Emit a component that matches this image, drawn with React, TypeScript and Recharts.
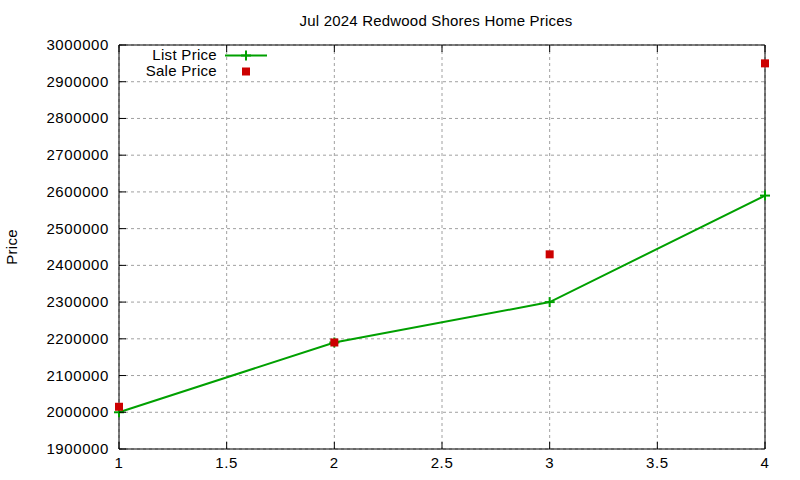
import { CartesianGrid, ComposedChart, Line, XAxis, YAxis } from "recharts";

const xValues = [1, 2, 3, 4];
const listPrice = [2000000, 2190000, 2300000, 2590000];
const salePrice = [2015000, 2190000, 2430000, 2950000];

const xTicks = [1, 1.5, 2, 2.5, 3, 3.5, 4];
const yTicks = [
  1900000, 2000000, 2100000, 2200000, 2300000, 2400000, 2500000, 2600000, 2700000, 2800000, 2900000,
  3000000,
];

const FONT = "'Liberation Sans', Arial, sans-serif";
const GREEN = "#00a000";
const RED = "#cc0000";

const data = xValues.map((x, i) => ({ x, list: listPrice[i], sale: salePrice[i] }));

function BottomTick({ x, y, payload }: any) {
  return (
    <g>
      <line x1={x} y1={y} x2={x} y2={y - 7} stroke="#000" />
      <text
        x={x}
        y={y + 19}
        textAnchor="middle"
        fontSize={15}
        letterSpacing={0.6}
        fontFamily={FONT}
        fill="#000"
      >
        {payload.value}
      </text>
    </g>
  );
}

function TopTick({ x, y }: any) {
  return <line x1={x} y1={y} x2={x} y2={y + 7} stroke="#000" />;
}

function LeftTick({ x, y, payload }: any) {
  return (
    <g>
      <line x1={x} y1={y} x2={x + 7} y2={y} stroke="#000" />
      <text
        x={x - 10}
        y={y + 5}
        textAnchor="end"
        fontSize={15}
        letterSpacing={0.6}
        fontFamily={FONT}
        fill="#000"
      >
        {payload.value}
      </text>
    </g>
  );
}

function RightTick({ x, y }: any) {
  return <line x1={x} y1={y} x2={x - 7} y2={y} stroke="#000" />;
}

function PlusDot({ cx, cy }: any) {
  return (
    <g>
      <line x1={cx - 5} y1={cy} x2={cx + 5} y2={cy} stroke={GREEN} strokeWidth={2} />
      <line x1={cx} y1={cy - 5} x2={cx} y2={cy + 5} stroke={GREEN} strokeWidth={2} />
    </g>
  );
}

function SquareDot({ cx, cy }: any) {
  return <rect x={cx - 4} y={cy - 4} width={8} height={8} fill={RED} />;
}

export default function App() {
  return (
    <div style={{ position: "absolute", left: 0, top: 0, width: 800, height: 480, background: "#fff" }}>
      <ComposedChart width={800} height={480} data={data} margin={{ top: 44, right: 34, bottom: 0, left: 0 }}>
        <CartesianGrid stroke="#a0a0a0" strokeDasharray="3 3" />
        <XAxis
          xAxisId={0}
          dataKey="x"
          type="number"
          domain={[1, 4]}
          ticks={xTicks}
          height={31}
          tickSize={0}
          tickMargin={0}
          tickLine={false}
          axisLine={{ stroke: "#000" }}
          tick={<BottomTick />}
          interval={0}
        />
        <XAxis
          xAxisId="top"
          orientation="top"
          dataKey="x"
          type="number"
          domain={[1, 4]}
          ticks={xTicks}
          height={1}
          tickSize={0}
          tickMargin={0}
          tickLine={false}
          axisLine={{ stroke: "#000" }}
          tick={<TopTick />}
          interval={0}
        />
        <YAxis
          yAxisId={0}
          type="number"
          domain={[1900000, 3000000]}
          ticks={yTicks}
          width={119}
          tickSize={0}
          tickMargin={0}
          tickLine={false}
          axisLine={{ stroke: "#000" }}
          tick={<LeftTick />}
          interval={0}
        />
        <YAxis
          yAxisId="right"
          orientation="right"
          type="number"
          domain={[1900000, 3000000]}
          ticks={yTicks}
          width={1}
          tickSize={0}
          tickMargin={0}
          tickLine={false}
          axisLine={{ stroke: "#000" }}
          tick={<RightTick />}
          interval={0}
        />
        <Line
          dataKey="list"
          name="List Price"
          stroke={GREEN}
          strokeWidth={2}
          dot={<PlusDot />}
          activeDot={false}
          isAnimationActive={false}
        />
        <Line
          dataKey="sale"
          name="Sale Price"
          stroke="none"
          strokeWidth={0}
          dot={<SquareDot />}
          activeDot={false}
          isAnimationActive={false}
        />
      </ComposedChart>
      <svg
        width={800}
        height={480}
        style={{ position: "absolute", left: 0, top: 0, pointerEvents: "none" }}
        fontFamily={FONT}
      >
        <text x={436} y={26} textAnchor="middle" fontSize={15} letterSpacing={0.2} fill="#000">
          Jul 2024 Redwood Shores Home Prices
        </text>
        <text
          x={17}
          y={247}
          textAnchor="middle"
          fontSize={15}
          letterSpacing={0.3}
          fill="#000"
          transform="rotate(-90, 17, 247)"
        >
          Price
        </text>
        <text x={217} y={60} textAnchor="end" fontSize={15} letterSpacing={0.3} fill="#000">
          List Price
        </text>
        <line x1={225} y1={55.5} x2={267} y2={55.5} stroke={GREEN} strokeWidth={2} />
        <line x1={241} y1={55.5} x2={251} y2={55.5} stroke={GREEN} strokeWidth={2} />
        <line x1={246} y1={50.5} x2={246} y2={60.5} stroke={GREEN} strokeWidth={2} />
        <text x={217} y={76} textAnchor="end" fontSize={15} letterSpacing={0.3} fill="#000">
          Sale Price
        </text>
        <rect x={242} y={67.5} width={8} height={8} fill={RED} />
      </svg>
    </div>
  );
}
